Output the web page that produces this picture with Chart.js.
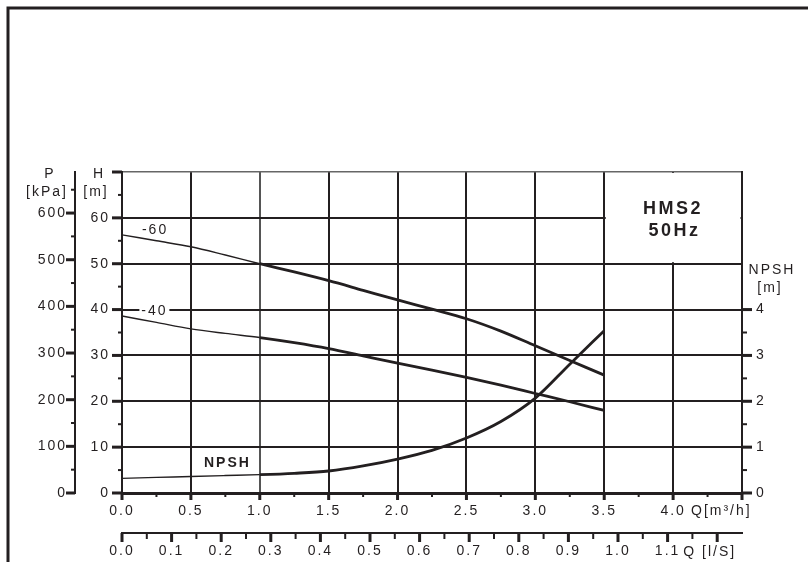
<!DOCTYPE html>
<html><head><meta charset="utf-8">
<script src="https://cdn.jsdelivr.net/npm/chart.js@4"></script>
<style>html,body{margin:0;padding:0;background:#fff}canvas{display:block}</style>
</head><body>
<canvas id="c" width="808" height="562" style="width:808px;height:562px"></canvas>
<script>
// ---- data ----
const flowM3h = [0, 0.25, 0.5, 0.75, 1.0, 1.25, 1.5, 1.75, 2.0, 2.25, 2.5, 2.75, 3.0, 3.25, 3.5];
const head60  = [56.3, 55.0, 53.7, 51.9, 50.0, 48.2, 46.3, 44.2, 42.1, 40.1, 38.0, 35.3, 32.1, 28.9, 25.7];
const head40  = [38.6, 37.2, 35.8, 34.8, 33.9, 32.8, 31.5, 29.9, 28.3, 26.8, 25.2, 23.5, 21.7, 19.9, 18.0];
const npshM   = [0.32, 0.34, 0.36, 0.38, 0.40, 0.43, 0.48, 0.59, 0.74, 0.93, 1.20, 1.56, 2.07, 2.81, 3.54];

const qM3hTicks  = [0,0.25,0.5,0.75,1,1.25,1.5,1.75,2,2.25,2.5,2.75,3,3.25,3.5,3.75,4,4.25,4.5];
const qM3hMajor  = [0,0.5,1,1.5,2,2.5,3,3.5,4,4.5];
const qM3hLabels = [0,0.5,1,1.5,2,2.5,3,3.5,4];
const qLsTicks   = [0,0.05,0.1,0.15,0.2,0.25,0.3,0.35,0.4,0.45,0.5,0.55,0.6,0.65,0.7,0.75,0.8,0.85,0.9,0.95,1,1.05,1.1,1.15,1.2];
const qLsMajor   = [0,0.1,0.2,0.3,0.4,0.5,0.6,0.7,0.8,0.9,1,1.1,1.2];
const qLsLabels  = [0,0.1,0.2,0.3,0.4,0.5,0.6,0.7,0.8,0.9,1,1.1];
const headTicks  = [0,5,10,15,20,25,30,35,40,45,50,55,60,65,70];
const headMajor  = [0,10,20,30,40,50,60,70];
const headLabels = [0,10,20,30,40,50,60];
const kpaTicks   = [0,50,100,150,200,250,300,350,400,450,500,550,600,650];
const kpaMajor   = [0,100,200,300,400,500,600];
const kpaLabels  = [0,100,200,300,400,500,600];
const npshTicks  = [0,0.5,1,1.5,2,2.5,3,3.5,4];
const npshMajor  = [0,1,2,3,4];
const npshLabels = [0,1,2,3,4];

const curveNames = ['-60', '-40', 'NPSH'];
const titleLines = ['HMS2', '50Hz'];

// ---- helpers ----
const INK = '#231f20';
const FONT = '"Liberation Sans", Arial, sans-serif';
const has = (arr, v) => arr.some(a => Math.abs(a - v) < 1e-6);
const pts = (ys) => flowM3h.map((x, i) => ({x, y: ys[i]}));
const thickAfter = 1.0;
const segW = ctx => (ctx.p0.parsed.x < thickAfter - 1e-6 ? 1.4 : 2.8);

function setTicks(arr) { return (s) => { s.ticks = arr.map(v => ({value: v})); }; }

function txt(ctx, s, x, y, opt) {
  ctx.save();
  ctx.font = (opt && opt.font) || ('14px ' + FONT);
  ctx.fillStyle = INK;
  ctx.textAlign = (opt && opt.align) || 'center';
  ctx.textBaseline = 'middle';
  ctx.letterSpacing = (opt && opt.ls) || '2px';
  ctx.fillText(s, x, y);
  ctx.restore();
}

const deco = {
  id: 'deco',
  beforeLayout(chart) { chart.ctx.letterSpacing = '2px'; },
  beforeDraw(chart) {
    const ctx = chart.ctx;
    ctx.save();
    ctx.fillStyle = '#fff';
    ctx.fillRect(0, 0, chart.width, chart.height);
    // outer frame
    ctx.strokeStyle = INK; ctx.lineWidth = 3;
    ctx.beginPath(); ctx.moveTo(8, chart.height); ctx.lineTo(8, 8); ctx.lineTo(chart.width, 8); ctx.stroke();
    ctx.restore();
    ctx.letterSpacing = '2px';
  },
  beforeDatasetsDraw(chart) {
    const ctx = chart.ctx, x = chart.scales.x, y = chart.scales.yH;
    // legend box region without grid
    const l = x.getPixelForValue(3.5) + 1.5, r = x.getPixelForValue(4.5) - 1.5;
    const t = y.getPixelForValue(70) + 1, b = y.getPixelForValue(50) - 1.5;
    ctx.save(); ctx.fillStyle = '#fff'; ctx.fillRect(l, t, r - l, b - t); ctx.restore();
  },
  afterDatasetsDraw(chart) {
    const ctx = chart.ctx, x = chart.scales.x, y = chart.scales.yH;
    // curve labels
    txt(ctx, curveNames[0], x.getPixelForValue(0.24), y.getPixelForValue(57.35));
    const lx = x.getPixelForValue(0.235), ly = y.getPixelForValue(39.7);
    ctx.save(); ctx.fillStyle = '#fff'; ctx.fillRect(lx - 15, ly - 3, 30, 6); ctx.restore();
    txt(ctx, curveNames[1], lx, ly);
    txt(ctx, curveNames[2], x.getPixelForValue(0.765), y.getPixelForValue(6.5), {font: 'bold 14px ' + FONT, ls: '2px'});
    txt(ctx, titleLines[0], x.getPixelForValue(4.0), y.getPixelForValue(62.0), {font: 'bold 18px ' + FONT, ls: '2.5px'});
    txt(ctx, titleLines[1], x.getPixelForValue(4.01), y.getPixelForValue(57.2), {font: 'bold 18px ' + FONT, ls: '2.5px'});
  },
  afterDraw(chart) {
    const ctx = chart.ctx, S = chart.scales;
    const tickSet = (scale, values, majors, side, majLen, minLen) => {
      ctx.save(); ctx.strokeStyle = INK;
      values.forEach(v => {
        const maj = has(majors, v), len = maj ? majLen : minLen;
        ctx.lineWidth = maj ? 3 : 2;
        const p = scale.getPixelForValue(v);
        ctx.beginPath();
        if (side === 'bottom') { ctx.moveTo(p, scale.top); ctx.lineTo(p, scale.top + len); }
        else if (side === 'left') { ctx.moveTo(scale.right, p); ctx.lineTo(scale.right - len, p); }
        else { ctx.moveTo(scale.left, p); ctx.lineTo(scale.left + len, p); }
        ctx.stroke();
      });
      ctx.restore();
    };
    tickSet(S.x, qM3hTicks, qM3hMajor, 'bottom', 7, 4);
    tickSet(S.x2, qLsTicks, qLsMajor, 'bottom', 9, 6);
    tickSet(S.yH, headTicks, headMajor, 'left', 10, 4);
    tickSet(S.yP, kpaTicks, kpaMajor, 'left', 9, 4);
    tickSet(S.yN, npshTicks, npshMajor, 'right', 10, 5);
    // axis titles
    const pr = S.yP.right, hr = S.yH.right, top = S.yH.top, nl = S.yN.left;
    txt(ctx, 'P', pr - 25, top + 2);
    txt(ctx, '[kPa]', pr - 28, top + 20);
    txt(ctx, 'H', hr - 23, top + 2);
    txt(ctx, '[m]', hr - 26, top + 20);
    txt(ctx, 'NPSH', nl + 30, S.yH.getPixelForValue(48.5));
    txt(ctx, '[m]', nl + 28, S.yH.getPixelForValue(44.6));
    txt(ctx, 'Q[m³/h]', S.x.getPixelForValue(4.35), S.x.top + 18.5);
    txt(ctx, 'Q [l/S]', S.x2.getPixelForValue(1.185), S.x2.top + 19);
  }
};

const tickFont = {family: FONT, size: 14};
new Chart(document.getElementById('c'), {
  type: 'line',
  data: {
    datasets: [
      {label: curveNames[0], data: pts(head60), yAxisID: 'yH', xAxisID: 'x', borderColor: INK, borderWidth: 2.8, segment: {borderWidth: segW}},
      {label: curveNames[1], data: pts(head40), yAxisID: 'yH', xAxisID: 'x', borderColor: INK, borderWidth: 2.8, segment: {borderWidth: segW}},
      {label: curveNames[2], data: pts(npshM), yAxisID: 'yN', xAxisID: 'x', borderColor: INK, borderWidth: 2.8, segment: {borderWidth: segW}}
    ]
  },
  options: {
    responsive: false, animation: false, devicePixelRatio: 1,
    layout: {padding: {top: 172, left: 0, right: 0, bottom: 0}},
    elements: {point: {radius: 0}, line: {cubicInterpolationMode: 'monotone', fill: false}},
    plugins: {legend: {display: false}, tooltip: {enabled: false}},
    scales: {
      x: {
        type: 'linear', position: 'bottom', weight: 0, min: 0, max: 4.5,
        afterBuildTicks: setTicks(qM3hTicks),
        afterFit: s => { s.height = 40; },
        ticks: {autoSkip: false, maxRotation: 0, padding: 10, color: INK, font: tickFont,
          callback: v => has(qM3hLabels, v) ? v.toFixed(1) : ''},
        grid: {drawTicks: false,
          color: c => { const v = c.tick && c.tick.value; if (v > 0.01 && v < 4.49 && has(qM3hMajor, v)) return Math.abs(v - 1) < 1e-6 ? '#555' : INK; return 'rgba(0,0,0,0)'; },
          lineWidth: 2},
        border: {display: true, color: INK, width: 3}
      },
      x2: {
        type: 'linear', position: 'bottom', weight: 1, min: 0, max: 1.25,
        afterBuildTicks: setTicks(qLsTicks),
        afterFit: s => { s.height = 29; },
        ticks: {autoSkip: false, maxRotation: 0, padding: 10, color: INK, font: tickFont,
          callback: v => has(qLsLabels, v) ? v.toFixed(1) : ''},
        grid: {drawTicks: false, drawOnChartArea: false},
        border: {display: true, color: INK, width: 2}
      },
      yH: {
        type: 'linear', position: 'left', weight: 0, min: 0, max: 70,
        afterBuildTicks: setTicks(headTicks),
        afterFit: s => { s.width = 47; },
        ticks: {autoSkip: false, padding: 12, color: INK, font: tickFont,
          callback: v => has(headLabels, v) ? String(v) : ''},
        grid: {drawTicks: false,
          color: c => { const v = c.tick && c.tick.value; if (Math.abs(v - 70) < 1e-6) return '#666'; if (v > 1 && has(headLabels, v)) return INK; return 'rgba(0,0,0,0)'; },
          lineWidth: c => (c.tick && Math.abs(c.tick.value - 70) < 1e-6 ? 1.5 : 2)},
        border: {display: true, color: INK, width: 2}
      },
      yP: {
        type: 'linear', position: 'left', weight: 1, min: 0, max: 688,
        afterBuildTicks: setTicks(kpaTicks),
        afterFit: s => { s.width = 75; },
        ticks: {autoSkip: false, padding: 8, color: INK, font: tickFont,
          callback: v => has(kpaLabels, v) ? String(v) : ''},
        grid: {drawTicks: false, drawOnChartArea: false},
        border: {display: true, color: INK, width: 2}
      },
      yN: {
        type: 'linear', position: 'right', min: 0, max: 7,
        afterBuildTicks: setTicks(npshTicks),
        afterFit: s => { s.width = 66; },
        ticks: {autoSkip: false, padding: 14, color: INK, font: tickFont,
          callback: v => has(npshLabels, v) ? String(v) : ''},
        grid: {drawTicks: false, drawOnChartArea: false},
        border: {display: true, color: INK, width: 2}
      }
    }
  },
  plugins: [deco]
});
</script>
</body></html>
